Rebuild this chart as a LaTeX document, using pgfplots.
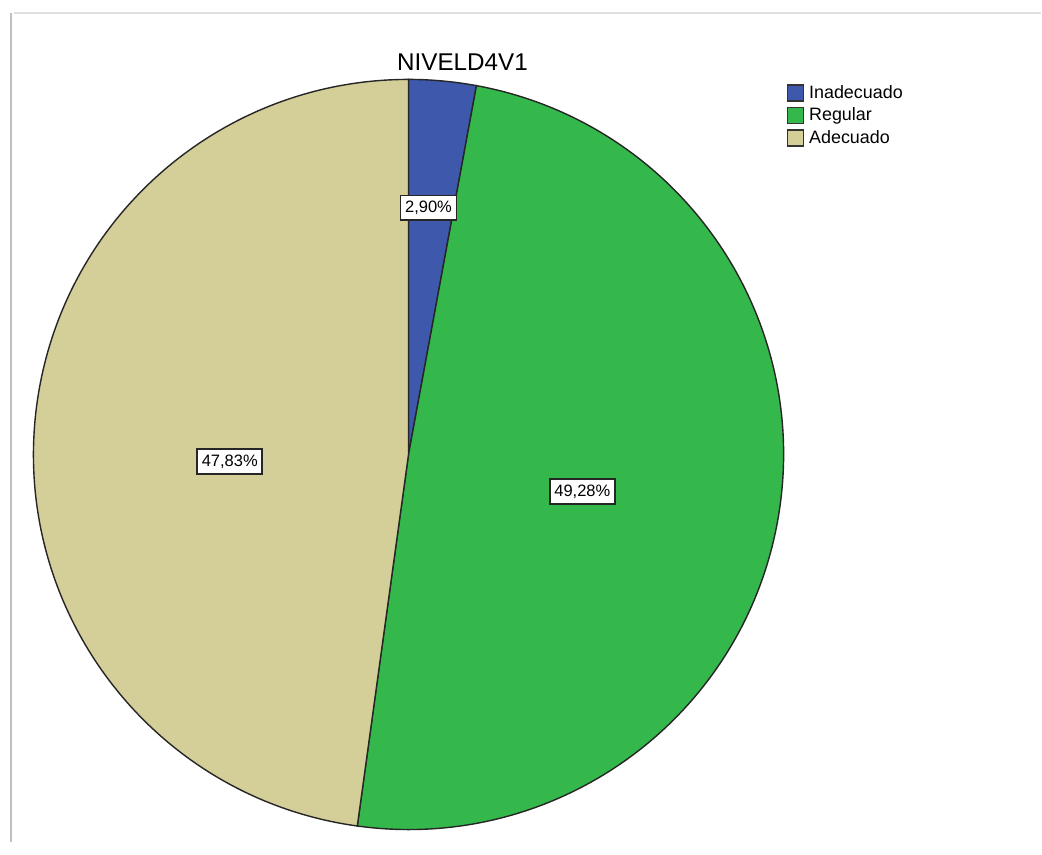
\documentclass[border=0pt]{standalone}
\usepackage{pgfplots}
\pgfplotsset{compat=1.18}
\usepackage{pgfplotstable}
\usepackage{fontspec}
\setmainfont{Liberation Sans}
\definecolor{cInad}{RGB}{62,88,172}
\definecolor{cReg}{RGB}{52,184,76}
\definecolor{cAde}{RGB}{212,206,152}
\pgfplotstableread{
label value
Inadecuado 2.90
Regular 49.28
Adecuado 47.83
}\piedata
\begin{document}
\begin{tikzpicture}
\pgfplotstablegetelem{0}{value}\of\piedata \let\vA\pgfplotsretval
\pgfplotstablegetelem{1}{value}\of\piedata \let\vB\pgfplotsretval
\pgfplotstablegetelem{2}{value}\of\piedata \let\vC\pgfplotsretval
\pgfmathsetmacro\aZ{90}
\pgfmathsetmacro\aA{90-3.6*\vA}
\pgfmathsetmacro\aB{\aA-3.6*\vB}
\pgfmathsetmacro\aC{-270}
\def\R{3.755cm}
\begin{axis}[
  width=10.42cm, height=8.43cm, scale only axis,
  xmin=0, xmax=1042, ymin=0, ymax=843,
  hide axis, clip=false,
  legend style={at={(axis cs:787,761)}, anchor=north west, draw=none, fill=none,
    font=\fontsize{5.1pt}{6pt}\selectfont, inner sep=0pt, row sep=0.15mm,
    column sep=0.3mm,
    nodes={inner xsep=0.2mm, inner ysep=0.2mm, text height=1.35mm, text depth=0.35mm}},
  legend cell align=left,
  legend image code/.code={\draw[#1, draw=black!80, line width=0.4pt] (0cm,-0.08cm) rectangle (0.16cm,0.08cm);},
]
\path (axis cs:0,0) rectangle (axis cs:1042,843);
% frame of the screenshot
\draw[color=black!12, line width=0.25mm] (axis cs:14,830) -- (axis cs:1042,830);
\draw[color=black!25, line width=0.25mm] (axis cs:11,0) -- (axis cs:11,830);
% slices
\filldraw[fill=cInad, draw=black!85, line width=0.4pt] (axis cs:409,388) -- ++(\aZ:\R) arc[start angle=\aZ, end angle=\aA, radius=\R] -- cycle;
\filldraw[fill=cReg, draw=black!85, line width=0.4pt] (axis cs:409,388) -- ++(\aA:\R) arc[start angle=\aA, end angle=\aB, radius=\R] -- cycle;
\filldraw[fill=cAde, draw=black!85, line width=0.4pt] (axis cs:409,388) -- ++(\aB:\R) arc[start angle=\aB, end angle=\aC, radius=\R] -- cycle;
\addlegendimage{fill=cInad}\addlegendentry{Inadecuado}
\addlegendimage{fill=cReg}\addlegendentry{Regular}
\addlegendimage{fill=cAde}\addlegendentry{Adecuado}
% title
\node[font=\fontsize{6.9pt}{8pt}\selectfont] at (axis cs:463,781) {NIVELD4V1};
% value labels
\tikzset{plab/.style={draw=black!85, fill=white, line width=0.5pt, inner xsep=0.45mm, inner ysep=0.55mm, font=\fontsize{4.7pt}{5.5pt}\selectfont}}
\node[plab] at (axis cs:429,635) {2,90\%};
\node[plab] at (axis cs:583,351) {49,28\%};
\node[plab] at (axis cs:230,381) {47,83\%};
\end{axis}
\end{tikzpicture}
\end{document}
